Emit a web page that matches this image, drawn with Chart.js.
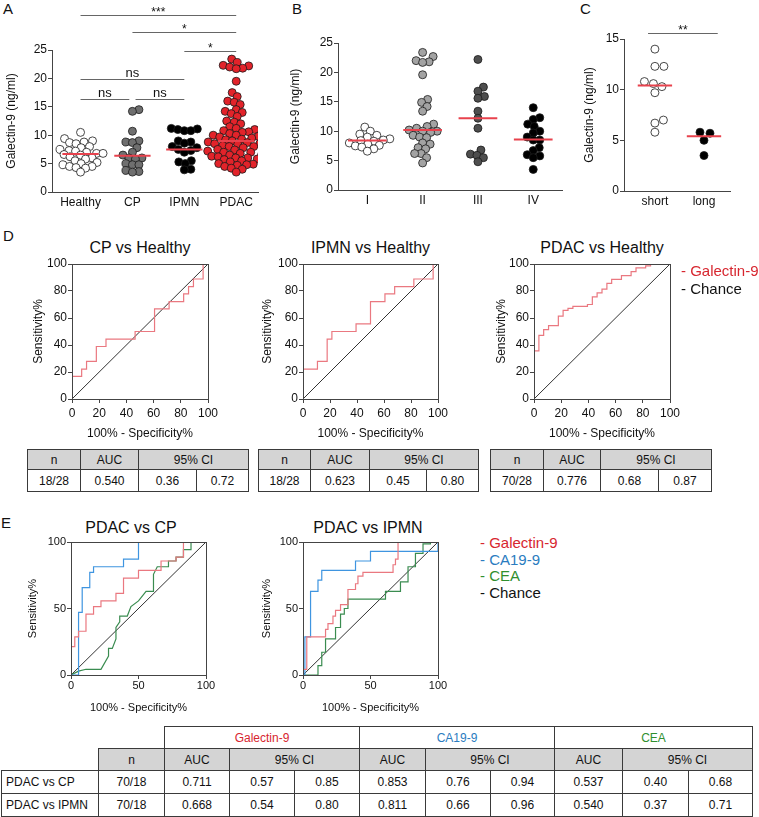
<!DOCTYPE html>
<html>
<head>
<meta charset="utf-8">
<script src="https://cdn.jsdelivr.net/npm/chart.js@4.4.1/dist/chart.umd.min.js"></script>
<style>
  body { margin: 0; background: #fff; font-family: 'Liberation Sans', Arial, sans-serif; color: #111; }
  #fig { position: relative; width: 759px; height: 817px; overflow: hidden; }
  canvas { position: absolute; }
  .lbl { position: absolute; font-size: 15px; line-height: 1; }
  .ttl { position: absolute; font-size: 16px; line-height: 1; text-align: center; width: 200px; }
  .leg { position: absolute; font-size: 15px; line-height: 17px; white-space: nowrap; }
  table { position: absolute; border-collapse: collapse; table-layout: fixed; font-size: 12px; }
  td { border: 1.5px solid #3a3a3a; text-align: center; padding: 0; white-space: nowrap; }
  td.h { background: #d4d4d4; }
  td.blank { border: none; }
  td.rowlbl { text-align: left; padding-left: 4px; }
</style>
</head>
<body>
<div id="fig"></div>
<script>
// ---- panel A: serum galectin-9 by group
const groupsA = ['Healthy', 'CP', 'IPMN', 'PDAC'];
const healthyVals = [10.5, 9.4, 9.0, 8.8, 8.7, 8.5, 8.0, 7.8, 7.5, 7.3, 7.2, 7.0, 6.8, 6.8, 6.6, 6.5, 6.2, 6.0, 5.8, 5.5, 5.2, 5.0, 4.8, 4.5, 4.5, 4.3, 4.2, 3.5];
const cpVals = [14.5, 14.2, 10.7, 9.0, 8.8, 8.7, 7.8, 7.0, 6.5, 6.0, 6.0, 5.8, 5.0, 4.8, 4.8, 3.8, 3.6, 3.5];
const ipmnVals = [11.2, 11.1, 11.0, 10.8, 10.8, 9.0, 8.8, 8.6, 8.0, 7.8, 7.5, 7.3, 7.0, 5.5, 5.3, 5.0, 4.0, 3.9];
const pdacVals = [23.4, 22.8, 22.3, 22.2, 22.0, 21.8, 21.7, 19.5, 17.5, 16.8, 16.0, 15.8, 15.4,
  14.5, 14.2, 14.0, 13.8, 13.3, 12.5, 12.3, 12.0, 11.5, 11.2, 11.0, 10.8, 10.6, 10.5, 10.3, 10.0, 10.0,
  9.8, 9.7, 9.5, 9.3, 9.2, 9.0, 9.0, 8.8, 8.7, 8.5, 8.5, 8.4, 8.2, 8.0, 8.0, 7.8, 7.5, 7.4, 7.2, 7.0, 7.0,
  6.8, 6.6, 6.5, 6.3, 6.2, 6.0, 6.0, 5.8, 5.7, 5.5, 5.3, 5.0, 4.9, 4.8, 4.7, 4.5, 4.2, 4.0, 3.5];
const mediansA = [6.7, 6.4, 7.5, 9.0];
const yTicksA = [0, 5, 10, 15, 20, 25];
const sigFromA = [1, 2, 3, 1, 1, 2.06];
const sigToA = [4, 4, 4, 3, 1.94, 3];
const sigLevelA = [31.2, 28.2, 24.9, 19.9, 16.4, 16.4];
const sigTextA = ['***', '*', '*', 'ns', 'ns', 'ns'];

// ---- panel B: PDAC by stage
const stagesB = ['I', 'II', 'III', 'IV'];
const stage1Vals = [10.7, 10.0, 9.5, 9.3, 9.0, 8.7, 8.5, 8.4, 8.3, 8.0, 7.8, 7.6, 7.5, 7.3, 7.0, 6.6];
const stage2Vals = [23.4, 22.7, 22.0, 21.8, 21.7, 19.6, 15.4, 14.9, 14.2, 13.4, 11.2, 10.8, 10.5, 10.2, 10.0, 10.0, 9.8, 9.3, 9.0, 8.9, 8.0, 7.8, 7.2, 7.0, 6.2, 6.2, 5.5, 4.6];
const stage3Vals = [22.2, 17.5, 16.8, 15.9, 15.6, 13.4, 12.2, 10.5, 6.8, 6.1, 5.9, 5.5, 4.8];
const stage4Vals = [14.0, 12.3, 12.0, 11.2, 10.8, 10.0, 9.7, 9.0, 8.5, 8.5, 7.2, 6.7, 6.0, 5.8, 5.5, 3.5];
const mediansB = [8.4, 10.2, 12.2, 8.6];

// ---- panel C: survival
const survivalC = ['short', 'long'];
const shortVals = [14.0, 12.3, 12.3, 10.8, 10.6, 10.3, 9.7, 7.0, 6.7, 5.8];
const longVals = [5.8, 5.7, 5.0, 3.5];
const mediansC = [10.4, 5.4];
const yTicksC = [0, 5, 10, 15];
const sigFromC = [0.86];
const sigToC = [2.28];
const sigLevelC = [15.6];
const sigTextC = ['**'];

// ---- panel D: ROC vs healthy
const rocTicksD = [0, 20, 40, 60, 80, 100];
const cpHealthyX = [0, 0, 7.1, 7.1, 10.7, 10.7, 17.9, 17.9, 25, 25, 46.4, 46.4, 60.7, 60.7, 71.4, 71.4, 82.1, 82.1, 85.7, 85.7, 89.3, 89.3, 96.4, 96.4, 100];
const cpHealthyY = [0, 16.7, 16.7, 22.2, 22.2, 27.8, 27.8, 38.9, 38.9, 44.4, 44.4, 50, 50, 66.7, 66.7, 72.2, 72.2, 77.8, 77.8, 83.3, 83.3, 88.9, 88.9, 100, 100];
const ipmnHealthyX = [0, 0, 10.7, 10.7, 17.9, 17.9, 21.4, 21.4, 39.3, 39.3, 50, 50, 60.7, 60.7, 67.9, 67.9, 82.1, 82.1, 96.4, 96.4, 100];
const ipmnHealthyY = [0, 22.2, 22.2, 27.8, 27.8, 44.4, 44.4, 50, 50, 55.6, 55.6, 72.2, 72.2, 77.8, 77.8, 83.3, 83.3, 88.9, 88.9, 100, 100];
const pdacHealthyX = [0, 0, 3.6, 3.6, 7.1, 7.1, 10.7, 10.7, 17.9, 17.9, 21.4, 21.4, 25, 25, 28.6, 28.6, 39.3, 39.3, 42.9, 42.9, 46.4, 46.4, 50, 50, 53.6, 53.6, 57.1, 57.1, 64.3, 64.3, 71.4, 71.4, 75, 75, 82.1, 82.1, 85.7, 85.7, 100];
const pdacHealthyY = [0, 35.7, 35.7, 47.1, 47.1, 51.4, 51.4, 54.3, 54.3, 61.4, 61.4, 65.7, 65.7, 67.1, 67.1, 68.6, 68.6, 70, 70, 75.7, 75.7, 78.6, 78.6, 81.4, 81.4, 85.7, 85.7, 88.6, 88.6, 91.4, 91.4, 94.3, 94.3, 97.1, 97.1, 98.6, 98.6, 100, 100];
const chanceX = [0, 100];
const chanceY = [0, 100];
const headD = ['n', 'AUC', '95% CI'];
const tableD = [
  ['18/28', '0.540', '0.36', '0.72'],
  ['18/28', '0.623', '0.45', '0.80'],
  ['70/28', '0.776', '0.68', '0.87']
];

// ---- panel E: ROC PDAC vs CP / IPMN
const rocTicksE = [0, 50, 100];
const galCpX = [0, 0, 2.8, 2.8, 5.6, 5.6, 11.1, 11.1, 16.7, 16.7, 22.2, 22.2, 33.3, 33.3, 38.9, 38.9, 50, 50, 66.7, 66.7, 77.8, 77.8, 83.3, 83.3, 100];
const galCpY = [0, 21.4, 21.4, 28.6, 28.6, 32.9, 32.9, 45.7, 45.7, 51.4, 51.4, 55.7, 55.7, 61.4, 61.4, 72.9, 72.9, 78.6, 78.6, 85.7, 85.7, 88.6, 88.6, 100, 100];
const caCpX = [0, 5.6, 5.6, 8.3, 8.3, 13.9, 13.9, 16.7, 16.7, 38.9, 38.9, 50, 50, 100];
const caCpY = [0, 0, 47.1, 47.1, 65.7, 65.7, 77.1, 77.1, 81.4, 81.4, 87.1, 87.1, 100, 100];
const ceaCpX = [0, 5.6, 11.1, 22.2, 27.8, 27.8, 30.6, 33.3, 33.3, 36.1, 36.1, 41.7, 44.4, 50, 55.6, 61.1, 61.1, 63.9, 72.2, 72.2, 77.8, 77.8, 83.3, 83.3, 88.9, 88.9, 100];
const ceaCpY = [0, 2.9, 4.3, 4.3, 14.3, 20, 20, 27.1, 35.7, 40, 44.3, 44.3, 51.4, 55.7, 62.9, 62.9, 75.7, 81.4, 81.4, 85.7, 85.7, 88.6, 88.6, 94.3, 94.3, 100, 100];
const galIpX = [0, 0, 2.8, 2.8, 16.7, 16.7, 18.5, 18.5, 22.2, 22.2, 24.1, 24.1, 27.8, 27.8, 33.3, 33.3, 38.9, 38.9, 40.7, 40.7, 44.4, 44.4, 66.7, 66.7, 68.5, 68.5, 70.4, 70.4, 100];
const galIpY = [0, 4.3, 4.3, 28.6, 28.6, 34.3, 34.3, 38.6, 38.6, 44.3, 44.3, 48.6, 48.6, 52.9, 52.9, 64.3, 64.3, 68.6, 68.6, 74.3, 74.3, 77.1, 77.1, 82.9, 82.9, 87.1, 87.1, 100, 100];
const caIpX = [0, 1.4, 1.4, 5.6, 5.6, 11.1, 11.1, 13.9, 13.9, 38.9, 38.9, 50, 50, 100, 100];
const caIpY = [0, 0, 28.6, 28.6, 62.9, 62.9, 71.4, 71.4, 78.6, 78.6, 85.7, 85.7, 92.9, 92.9, 100];
const ceaIpX = [0, 11.1, 11.1, 13.9, 13.9, 16.7, 16.7, 24.1, 24.1, 27.8, 27.8, 30.6, 30.6, 33.3, 33.3, 61.1, 61.1, 72.2, 72.2, 77.8, 77.8, 83.3, 83.3, 88.9, 88.9, 94.4, 94.4, 100];
const ceaIpY = [0, 0, 7.1, 7.1, 17.1, 17.1, 27.1, 27.1, 35.7, 35.7, 45.7, 45.7, 50, 50, 57.1, 57.1, 62.9, 62.9, 70, 70, 81.4, 81.4, 91.4, 91.4, 98.6, 98.6, 100, 100];
const markersE = ['Galectin-9', 'CA19-9', 'CEA'];
const comparisonsE = ['PDAC vs CP', 'PDAC vs IPMN'];
const nE = ['70/18', '70/18'];
const aucE = [['0.711', '0.853', '0.537'], ['0.668', '0.811', '0.540']];
const ciLowE = [['0.57', '0.76', '0.40'], ['0.54', '0.66', '0.37']];
const ciHighE = [['0.85', '0.94', '0.68'], ['0.80', '0.96', '0.71']];

const RED_LINE = '#e8424d';
const ROC_RED = '#ea7880';
const ROC_BLUE = '#3f95e0';
const ROC_GREEN = '#3a8c50';
const TXT_RED = '#d7262f';
const TXT_BLUE = '#2a7cc0';
const TXT_GREEN = '#2f8f2f';
const AXIS = '#444';

Chart.defaults.font.family = "'Liberation Sans', Arial, sans-serif";
Chart.defaults.color = '#111';

const fig = document.getElementById('fig');

function addCanvas(box, pad) {
  const c = document.createElement('canvas');
  c.width = box.r - box.l + pad.l + pad.r;
  c.height = box.b - box.t + pad.t + pad.b;
  c.style.left = (box.l - pad.l) + 'px';
  c.style.top = (box.t - pad.t) + 'px';
  fig.appendChild(c);
  return c;
}

function addDiv(cls, text, left, top, color) {
  const d = document.createElement('div');
  d.className = cls;
  d.textContent = text;
  d.style.left = left + 'px';
  d.style.top = top + 'px';
  if (color) d.style.color = color;
  fig.appendChild(d);
  return d;
}

// simple beeswarm: nearest free horizontal slot, in pixels
function swarm(vals, pxX, pxY, d) {
  const placed = [];
  const offs = new Array(vals.length);
  const order = vals.map((v, i) => i).sort((a, b) => vals[a] - vals[b]);
  for (const i of order) {
    const yp = vals[i] * pxY;
    let pos = 0;
    for (let k = 0; k < 400; k++) {
      const cand = (k % 2 ? 1 : -1) * Math.ceil(k / 2) * 0.5;
      const ok = placed.every(p => (cand - p.x) ** 2 + (yp - p.y) ** 2 >= d * d);
      if (ok) { pos = cand; break; }
    }
    placed.push({ x: pos, y: yp });
    offs[i] = pos / pxX;
  }
  return offs;
}

function sigPlugin(from, to, level, text) {
  return {
    id: 'sig',
    afterDraw(chart) {
      const { ctx, scales: { x, y } } = chart;
      ctx.save();
      ctx.strokeStyle = '#666';
      ctx.lineWidth = 1.2;
      ctx.fillStyle = '#111';
      ctx.textAlign = 'center';
      ctx.textBaseline = 'alphabetic';
      from.forEach((f, i) => {
        const x1 = x.getPixelForValue(f), x2 = x.getPixelForValue(to[i]);
        const py = Math.round(y.getPixelForValue(level[i])) + 0.5;
        ctx.beginPath(); ctx.moveTo(x1, py); ctx.lineTo(x2, py); ctx.stroke();
        const ns = text[i] === 'ns';
        ctx.font = (ns ? '13px' : '12px') + " 'Liberation Sans', Arial, sans-serif";
        ctx.fillText(text[i], (x1 + x2) / 2, py - (ns ? 3 : 0));
      });
      ctx.restore();
    }
  };
}

function dotPlot(o) {
  const canvas = addCanvas(o.box, o.pad);
  const pxX = (o.box.r - o.box.l) / (o.xMax - o.xMin);
  const pxY = (o.box.b - o.box.t) / o.yMax;
  const datasets = [];
  o.medians.forEach((m, i) => datasets.push({
    data: [{ x: i + 1 - 0.35, y: m }, { x: i + 1 + 0.35, y: m }],
    showLine: true, borderColor: RED_LINE, borderWidth: 2, pointRadius: 0, order: 0
  }));
  o.series.forEach((vals, i) => {
    const offs = swarm(vals, pxX, pxY, o.gap);
    datasets.push({
      data: vals.map((v, j) => ({ x: i + 1 + offs[j], y: v })),
      pointRadius: 4, pointBackgroundColor: o.fills[i], pointBorderColor: '#1a1a1a', pointBorderWidth: 0.8,
      order: 1
    });
  });
  new Chart(canvas, {
    type: 'scatter',
    data: { datasets },
    options: {
      responsive: false, animation: false, events: [],
      layout: { padding: { left: 0, top: o.pad.t, right: o.pad.r, bottom: 0 } },
      plugins: { legend: { display: false }, tooltip: { enabled: false } },
      scales: {
        x: {
          type: 'linear', min: o.xMin, max: o.xMax,
          afterBuildTicks: s => { s.ticks = o.groups.map((g, i) => ({ value: i + 1 })); },
          afterFit: s => { s.height = o.pad.b; },
          ticks: { callback: v => o.groups[v - 1], font: { size: 12 }, color: '#111', padding: 3, maxRotation: 0 },
          grid: { display: false, drawTicks: false },
          border: { display: true, color: AXIS, width: 1 }
        },
        y: {
          min: 0, max: o.yMax,
          afterBuildTicks: s => { s.ticks = o.yTicks.map(v => ({ value: v })); },
          afterFit: s => { s.width = o.pad.l; },
          ticks: { font: { size: 12 }, color: '#111', padding: 1 },
          grid: { display: true, drawOnChartArea: false, drawTicks: true, tickLength: 4, color: AXIS },
          border: { display: true, color: AXIS, width: 1 },
          title: { display: true, text: 'Galectin-9 (ng/ml)', font: { size: 12 }, color: '#111', padding: { top: o.titlePad, bottom: 0 } }
        }
      }
    },
    plugins: o.sig ? [sigPlugin(...o.sig)] : []
  });
}

const framePlugin = {
  id: 'frame',
  afterDraw(chart) {
    const { ctx, chartArea: a } = chart;
    ctx.save();
    ctx.strokeStyle = AXIS;
    ctx.lineWidth = 1;
    ctx.strokeRect(Math.round(a.left) + 0.5, Math.round(a.top) + 0.5, Math.round(a.right - a.left), Math.round(a.bottom - a.top));
    ctx.restore();
  }
};

function rocPlot(o) {
  const canvas = addCanvas(o.box, o.pad);
  const datasets = o.curves.map(c => ({
    data: c.x.map((x, i) => ({ x, y: c.y[i] })),
    showLine: true, borderColor: c.color, borderWidth: 1.2, pointRadius: 0, tension: 0
  }));
  datasets.push({
    data: chanceX.map((x, i) => ({ x, y: chanceY[i] })),
    showLine: true, borderColor: '#333', borderWidth: 1, pointRadius: 0
  });
  const axis = (isX) => ({
    type: 'linear', min: 0, max: 100,
    afterBuildTicks: s => { s.ticks = o.ticks.map(v => ({ value: v })); },
    afterFit: s => { if (isX) s.height = o.pad.b; else s.width = o.pad.l; },
    ticks: { font: { size: o.fs }, color: '#111', padding: isX ? o.xtp : 1, maxRotation: 0 },
    grid: { display: true, drawOnChartArea: false, drawTicks: true, tickLength: 4, color: AXIS },
    border: { display: true, color: AXIS, width: 1 },
    title: {
      display: true, text: isX ? '100% - Specificity%' : 'Sensitivity%', font: { size: o.fs }, color: '#111',
      padding: isX ? { top: 0, bottom: o.xTitlePad } : { top: o.yTitlePad, bottom: 0 }
    }
  });
  new Chart(canvas, {
    type: 'scatter',
    data: { datasets },
    options: {
      responsive: false, animation: false, events: [],
      layout: { padding: { left: 0, top: o.pad.t, right: o.pad.r, bottom: 0 } },
      plugins: { legend: { display: false }, tooltip: { enabled: false } },
      scales: { x: axis(true), y: axis(false) }
    },
    plugins: [framePlugin]
  });
}

function smallTable(left, top, widths, head, row) {
  const t = document.createElement('table');
  t.style.left = left + 'px';
  t.style.top = top + 'px';
  t.style.width = widths.reduce((a, b) => a + b, 0) + 'px';
  t.innerHTML = '<colgroup>' + widths.map(w => `<col style="width:${w}px">`).join('') + '</colgroup>' +
    `<tr style="height:20px"><td class="h">${head[0]}</td><td class="h">${head[1]}</td><td class="h" colspan="2">${head[2]}</td></tr>` +
    '<tr style="height:22px">' + row.map(v => `<td>${v}</td>`).join('') + '</tr>';
  fig.appendChild(t);
}

// panel letters
addDiv('lbl', 'A', 3, 1);
addDiv('lbl', 'B', 292, 1);
addDiv('lbl', 'C', 580, 1);
addDiv('lbl', 'D', 3, 228);
addDiv('lbl', 'E', 1, 515);

dotPlot({
  box: { l: 52, t: 50, r: 258, b: 192 }, pad: { l: 52, t: 50, r: 10, b: 25 }, titlePad: 4.8,
  xMin: 0.45, xMax: 4.42, yMax: 25, yTicks: yTicksA, groups: groupsA, gap: 6.3,
  series: [healthyVals, cpVals, ipmnVals, pdacVals],
  fills: ['#ffffff', '#6f6f6f', '#000000', '#e2232a'],
  medians: mediansA,
  sig: [sigFromA, sigToA, sigLevelA, sigTextA]
});

dotPlot({
  box: { l: 338, t: 43, r: 562, b: 190 }, pad: { l: 66, t: 43, r: 6, b: 25 }, titlePad: 16.8,
  xMin: 0.47, xMax: 4.52, yMax: 25, yTicks: yTicksA, groups: stagesB, gap: 6.5,
  series: [stage1Vals, stage2Vals, stage3Vals, stage4Vals],
  fills: ['#ffffff', '#a3a3a3', '#4e4e4e', '#000000'],
  medians: mediansB
});

dotPlot({
  box: { l: 624, t: 39, r: 730, b: 191 }, pad: { l: 52, t: 39, r: 10, b: 25 }, titlePad: 10.8,
  xMin: 0.37, xMax: 2.53, yMax: 15, yTicks: yTicksC, groups: survivalC, gap: 9,
  series: [shortVals, longVals],
  fills: ['#ffffff', '#000000'],
  medians: mediansC,
  sig: [sigFromC, sigToC, sigLevelC, sigTextC]
});

// D
const padD = { l: 50, t: 12, r: 14, b: 48 };
const boxesD = [
  { l: 72, t: 264, r: 208, b: 399 },
  { l: 303, t: 264, r: 438, b: 399 },
  { l: 534, t: 264, r: 670, b: 399 }
];
const titlesD = ['CP vs Healthy', 'IPMN vs Healthy', 'PDAC vs Healthy'];
const curvesD = [[cpHealthyX, cpHealthyY], [ipmnHealthyX, ipmnHealthyY], [pdacHealthyX, pdacHealthyY]];
const yTitlePadD = [9.8, 7.8, 10.8];
boxesD.forEach((box, i) => {
  addDiv('ttl', titlesD[i], (box.l + box.r) / 2 - 100, 240);
  rocPlot({
    box, pad: padD, ticks: rocTicksD, fs: 12, xtp: 3, xTitlePad: 5.8, yTitlePad: yTitlePadD[i],
    curves: [{ x: curvesD[i][0], y: curvesD[i][1], color: ROC_RED }]
  });
});
addDiv('leg', '- Galectin-9', 681, 262, TXT_RED);
addDiv('leg', '- Chance', 681, 280, '#111');

smallTable(27, 449, [53, 58, 58, 52], headD, tableD[0]);
smallTable(258, 449, [52, 59, 57, 52], headD, tableD[1]);
smallTable(490, 449, [53, 57, 58, 53], headD, tableD[2]);

// E
const padE = { l: 50, t: 10, r: 14, b: 44 };
addDiv('ttl', 'PDAC vs CP', 131 - 100, 520);
addDiv('ttl', 'PDAC vs IPMN', 368 - 100, 520);
rocPlot({
  box: { l: 71, t: 542, r: 206, b: 675 }, pad: padE, ticks: rocTicksE, fs: 11, xtp: 0, xTitlePad: 4.4, yTitlePad: 5.4,
  curves: [
    { x: galCpX, y: galCpY, color: ROC_RED },
    { x: caCpX, y: caCpY, color: ROC_BLUE },
    { x: ceaCpX, y: ceaCpY, color: ROC_GREEN }
  ]
});
rocPlot({
  box: { l: 303, t: 542, r: 438, b: 675 }, pad: padE, ticks: rocTicksE, fs: 11, xtp: 0, xTitlePad: 4.4, yTitlePad: 7.4,
  curves: [
    { x: galIpX, y: galIpY, color: ROC_RED },
    { x: caIpX, y: caIpY, color: ROC_BLUE },
    { x: ceaIpX, y: ceaIpY, color: ROC_GREEN }
  ]
});
const legColorsE = [TXT_RED, TXT_BLUE, TXT_GREEN, '#111'];
[...markersE, 'Chance'].forEach((m, i) => addDiv('leg', '- ' + m, 480, 534 + i * 16.7, legColorsE[i]));

// big table
(function () {
  const widths = [97, 66, 65, 65, 65, 66, 65, 64, 68, 66, 64];
  const t = document.createElement('table');
  t.style.left = '1px';
  t.style.top = '726px';
  t.style.width = widths.reduce((a, b) => a + b, 0) + 'px';
  let html = '<colgroup>' + widths.map(w => `<col style="width:${w}px">`).join('') + '</colgroup>';
  html += '<tr style="height:22px"><td class="blank" colspan="2"></td>' +
    markersE.map((m, i) => `<td colspan="3" style="color:${legColorsE[i]}">${m}</td>`).join('') + '</tr>';
  html += '<tr style="height:22px"><td class="blank"></td><td class="h">n</td>' +
    markersE.map(() => '<td class="h">AUC</td><td class="h" colspan="2">95% CI</td>').join('') + '</tr>';
  comparisonsE.forEach((c, r) => {
    html += `<tr style="height:23px"><td class="rowlbl">${c}</td><td>${nE[r]}</td>` +
      markersE.map((m, k) => `<td>${aucE[r][k]}</td><td>${ciLowE[r][k]}</td><td>${ciHighE[r][k]}</td>`).join('') + '</tr>';
  });
  t.innerHTML = html;
  fig.appendChild(t);
})();
</script>
</body>
</html>
